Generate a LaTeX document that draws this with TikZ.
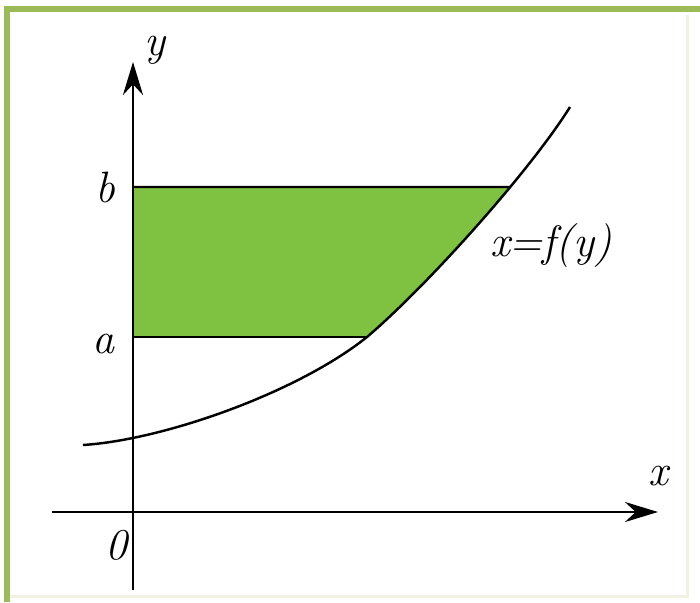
\documentclass[tikz,border=0pt]{standalone}
\usetikzlibrary{arrows.meta,positioning,calc,intersections}
\definecolor{FrameGreen}{HTML}{9BBB59}
\definecolor{AreaGreen}{HTML}{7FC242}
\definecolor{FaintEdge}{HTML}{F1F1E4}
\newcommand{\fcurve}{(-50,67) .. controls (30,72) and (164,119) .. (234,175) .. controls (294,226) and (397,341) .. (437,405)}

\begin{document}
\begin{tikzpicture}[x=0.1mm,y=0.1mm, >={Stealth[length=3.3mm,width=2mm]},
  axis/.style={line width=0.8pt,->},
  lbl/.style={font=\fontsize{12.5}{14}\selectfont\itshape, inner sep=0pt},
  curveline/.style={line width=0.7pt, line join=round}]
  \useasboundingbox (-133,-90) rectangle (567,512);
  % frame
  \draw[FaintEdge, line width=0.3mm] (555,497) -- (555,-85) -- (-126,-85);
  \draw[FrameGreen, line width=0.6mm] (-126,-90) -- (-126,503) -- (567,503);
  % shaded strip
  \begin{scope}
    \clip (0,175) rectangle (560,325);
    \fill[AreaGreen] \fcurve -- (0,405) -- cycle;
  \end{scope}
  % axes
  \coordinate (xs) at (-81,0);
  \coordinate (xe) at (525,0);
  \coordinate (ys) at (0,-78);
  \coordinate (ye) at (0,450);
  \draw[axis] (xs) -- (xe);
  \draw[axis] (ys) -- (ye);
  % curve and limits
  \draw[curveline, name path=fy] \fcurve;
  \path[name path=bline] (0,325) -- (560,325);
  \path[name intersections={of=fy and bline, by=pb}];
  \coordinate (pa) at (234,175);
  \draw[line width=0.7pt] (0,175) -- (pa);
  \draw[line width=0.7pt] (0,325) -- (pb);
  % labels
  \node[lbl] (lbly) at (22,462) {y};
  \node[lbl] (lblx) at (525,36) {x};
  \node[lbl] (lblo) at (-17,-33) {0};
  \node[lbl] (lblb) at (-28,325) {b};
  \node[lbl] (lbla) at (-30,168) {a};
  \node[lbl] (lblf) at (418,266) {x=f(y)};
\end{tikzpicture}
\end{document}
